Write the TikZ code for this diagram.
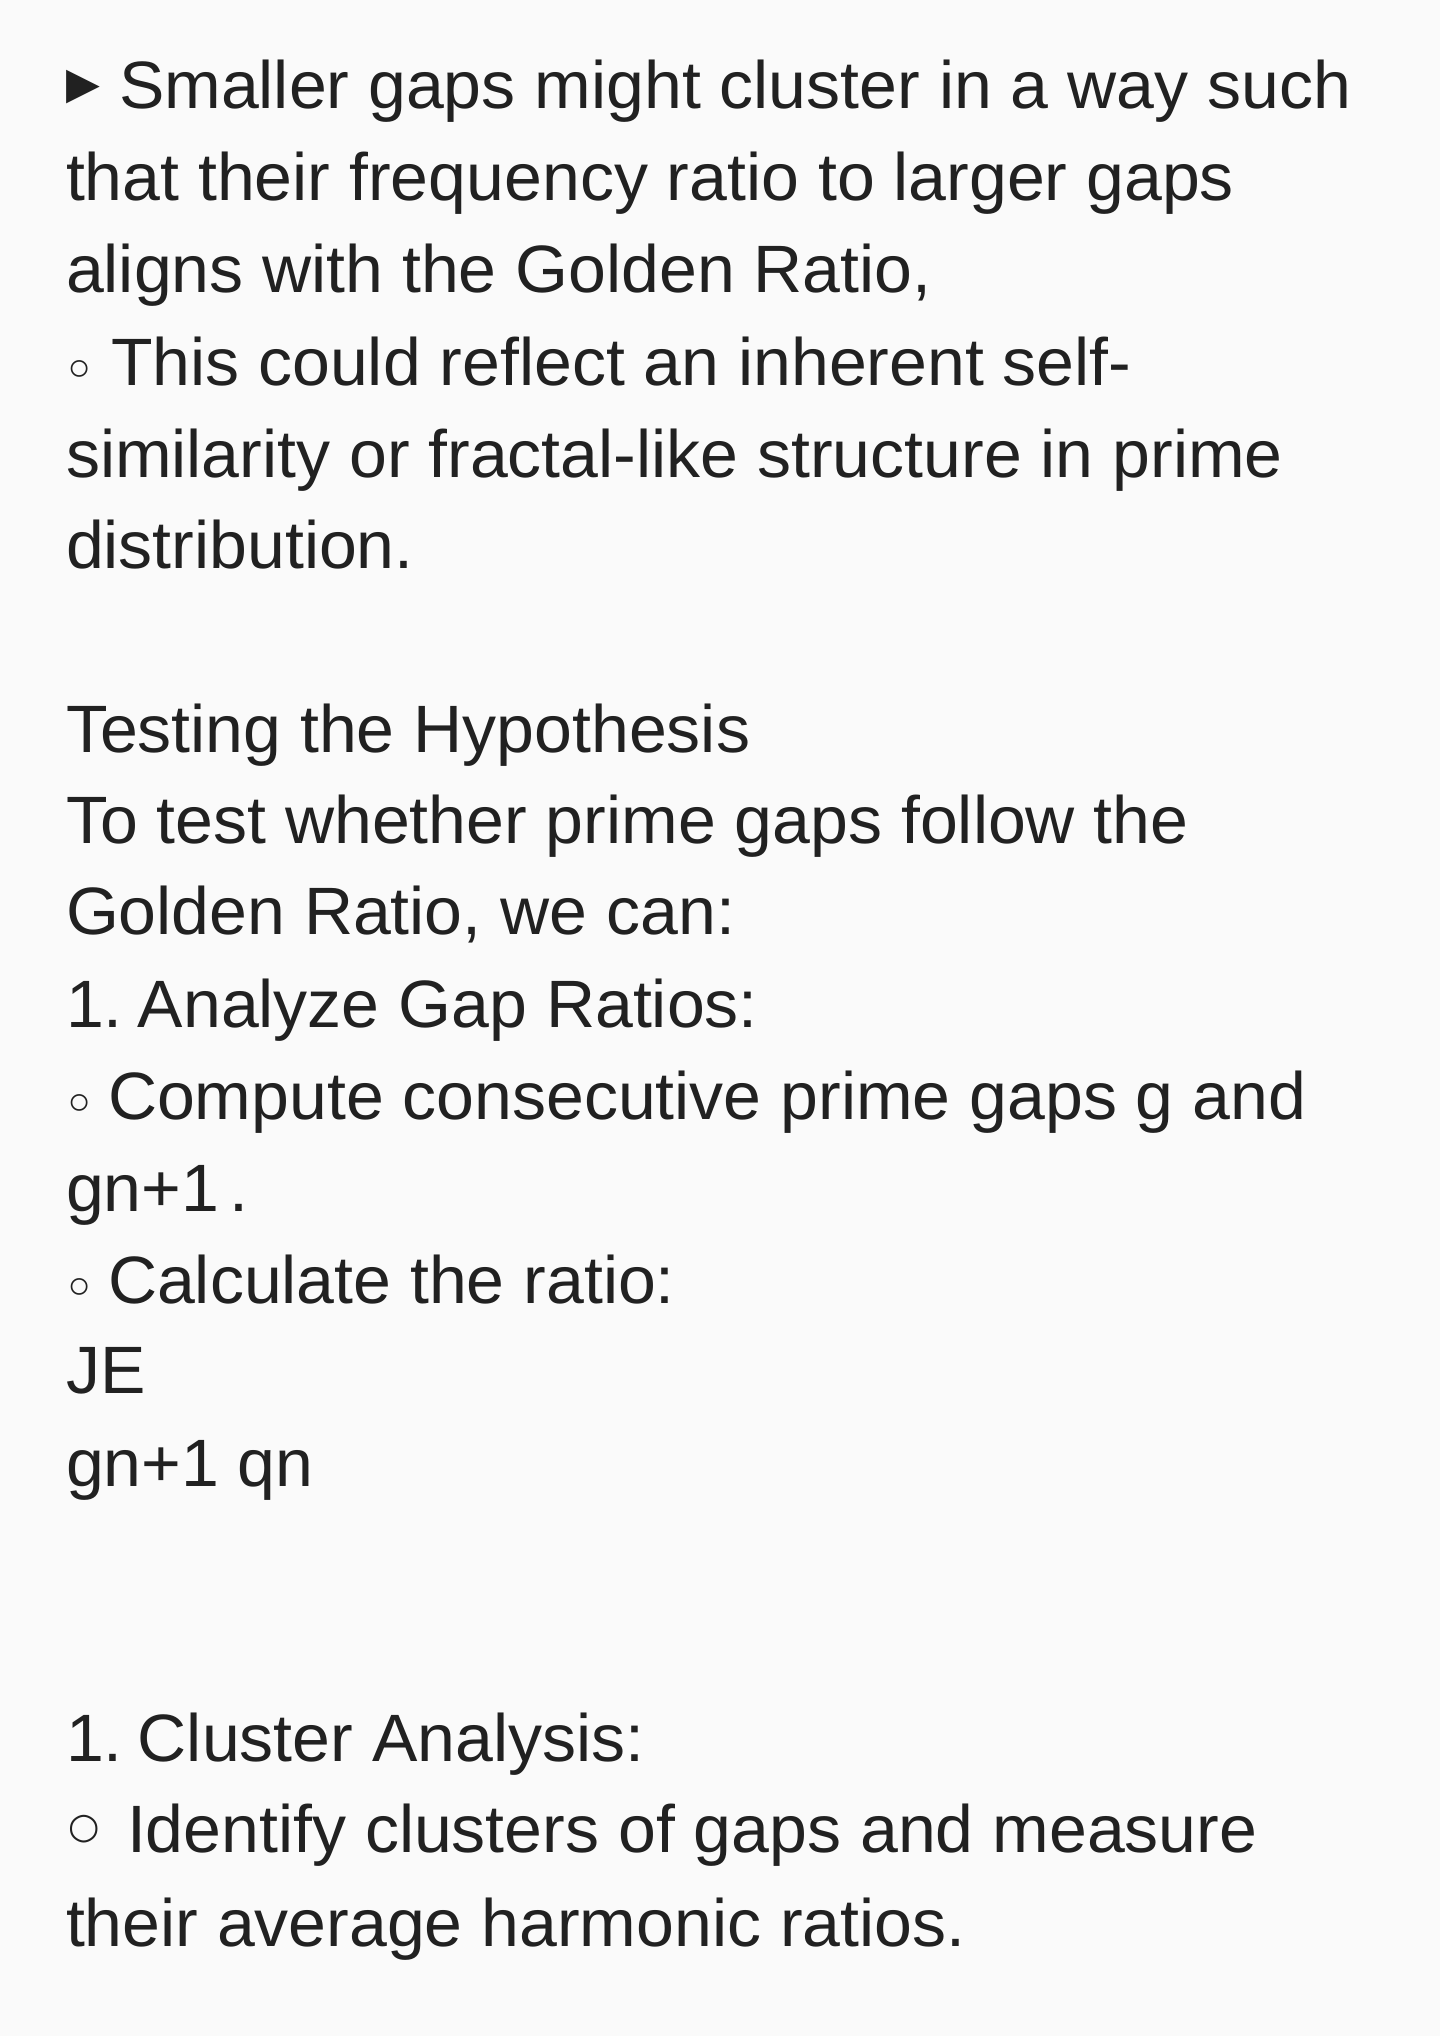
\documentclass[tikz,border=0pt]{standalone}
\usepackage{fontspec}
\setmainfont[FakeStretch=1.015]{Liberation Sans}
\newfontfamily\symfont{DejaVu Sans}
\definecolor{txtcol}{HTML}{212121}
\definecolor{bgcol}{HTML}{FAFAFA}
\begin{document}
\begin{tikzpicture}[x=0.5pt,y=-0.5pt,
  line/.style={anchor=base west,inner sep=0pt,outer sep=0pt,text=txtcol,font=\fontsize{33.5pt}{40pt}\selectfont},
  bul/.style={anchor=center,inner sep=0pt,outer sep=0pt,text=txtcol,font=\symfont\fontsize{22pt}{26pt}\selectfont},
  bulsm/.style={anchor=center,inner sep=0pt,outer sep=0pt,text=txtcol,font=\symfont\fontsize{29pt}{34pt}\selectfont},
  bulbig/.style={anchor=center,inner sep=0pt,outer sep=0pt,text=txtcol,font=\symfont\fontsize{18pt}{22pt}\selectfont}]
\fill[bgcol] (0,0) rectangle (1440,2036);
\useasboundingbox (0,0) rectangle (1440,2036);
\node[bul] (b1) at (83,87) {▶};
\node[line] (l1) at (119,108) {Smaller gaps might cluster in a way such};
\node[line] (l2) at (66,200) {that their frequency ratio to larger gaps};
\node[line] (l3) at (66,292) {aligns with the Golden Ratio,};
\node[bulsm] (b4) at (79.5,376) {◦};
\node[line] (l4) at (111,385) {This could reflect an inherent self-};
\node[line] (l5) at (66,477) {similarity or fractal-like structure in prime};
\node[line] (l6) at (66,568) {distribution.};
\node[line] (l8) at (66,752) {Testing the Hypothesis};
\node[line] (l9) at (66,843) {To test whether prime gaps follow the};
\node[line] (l10) at (66,934) {Golden Ratio, we can:};
\node[line] (l11) at (66,1027) {1.\kern-5pt{} Analyze Gap Ratios:};
\node[bulsm] (b12) at (79.5,1110) {◦};
\node[line] (l12) at (108,1119) {Compute consecutive prime gaps g and};
\node[line] (l13) at (66,1211) {gn+1\kern5pt.};
\node[bulsm] (b14) at (79.5,1294) {◦};
\node[line] (l14) at (108,1303) {Calculate the ratio:};
\node[line] (l15) at (66,1393) {JE};
\node[line] (l16) at (66,1486) {gn+1 qn};
\node[line] (l19) at (66,1761) {1.\kern-5pt{} Cluster Analysis:};
\node[bulbig] (b20) at (84.5,1829.5) {○};
\node[line] (l20) at (127,1852) {Identify clusters of gaps and measure};
\node[line] (l21) at (66,1946) {their average harmonic ratios.};
\end{tikzpicture}
\end{document}
